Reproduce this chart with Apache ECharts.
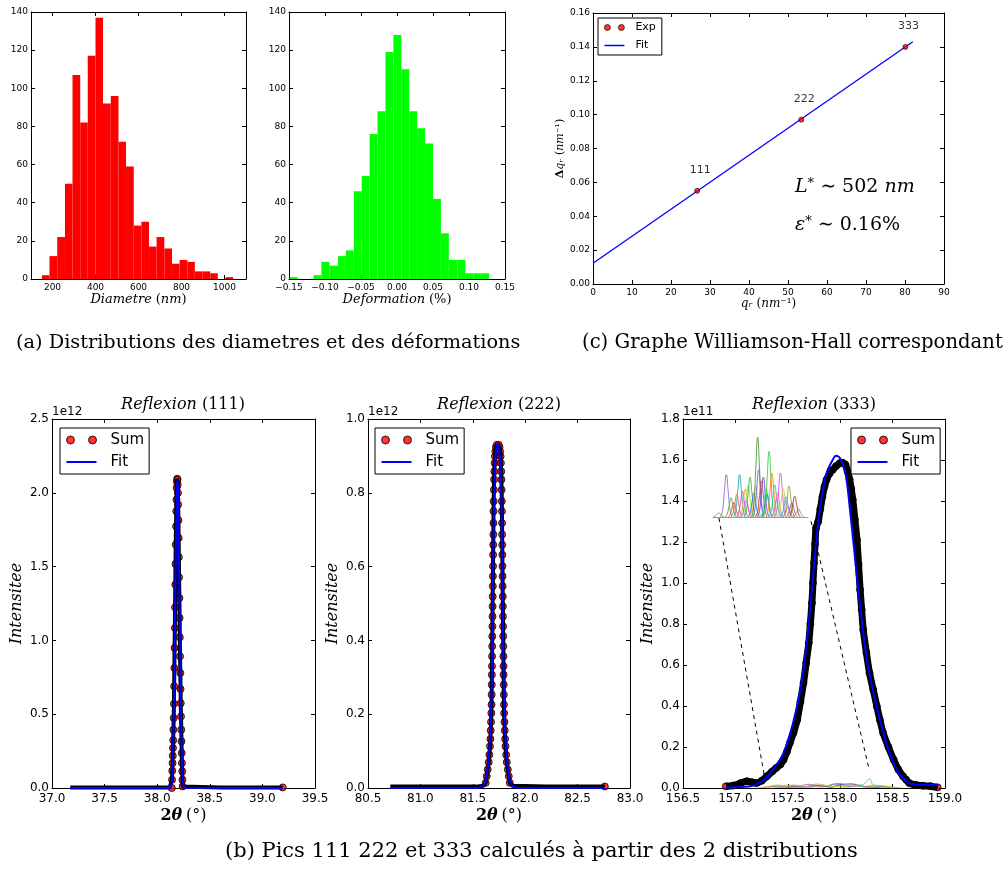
<!DOCTYPE html>
<html><head><meta charset="utf-8">
<script src="https://cdn.jsdelivr.net/npm/echarts@6/dist/echarts.min.js"></script>
<style>html,body{margin:0;padding:0;background:#fff}#c{width:1006px;height:874px}</style>
</head><body><div id="c"></div><script>
// ---------------- data ----------------
var diamEdges = [151,186,222,258,293,329,364,400,435,471,507,542,578,613,649,684,720,756,791,827,862,898,934,969,1005,1040];
var diamCounts = [2,12,22,50,107,82,117,137,92,96,72,59,28,30,17,22,16,8,10,9,4,4,3,0,1];
var diamTicks = [200,400,600,800,1000];
var defEdges = [-0.149,-0.138,-0.127,-0.116,-0.105,-0.094,-0.082,-0.071,-0.060,-0.049,-0.038,-0.027,-0.016,-0.005,0.006,0.017,0.028,0.039,0.050,0.061,0.072,0.084,0.095,0.106,0.117,0.128];
var defCounts = [1,0,0,2,9,7,12,15,46,54,76,88,119,128,110,88,79,71,42,24,10,10,3,3,3];

var whQ = [26.7, 53.4, 80.1];
var whDq = [0.055, 0.097, 0.140];
var whLabels = ['111','222','333'];
var whFitQ = [0, 82];
var whFitDq = [0.0123, 0.1430];

// Reflexion (111), intensities in 1e12
var base111Left = [[37.174,0.004],[37.6,0.004],[38.0,0.004],[38.12,0.004],[38.139,0.0]];
var base111Right = [[38.242,0.011],[38.26,0.004],[38.6,0.004],[39.0,0.004],[39.193,0.004]];
var sum111Peak = [[38.139,0.000],[38.141,0.056],[38.143,0.117],[38.146,0.169],[38.148,0.219],[38.150,0.271],[38.152,0.323],[38.154,0.395],[38.157,0.474],[38.159,0.571],[38.161,0.689],[38.163,0.813],[38.165,0.949],[38.168,1.084],[38.170,1.224],[38.172,1.378],[38.174,1.518],[38.176,1.649],[38.179,1.773],[38.181,1.875],[38.183,1.954],[38.185,2.033],[38.188,2.075],[38.190,2.095],
 [38.193,2.089],[38.195,2.055],[38.197,1.999],[38.199,1.920],[38.202,1.814],[38.204,1.694],[38.206,1.563],[38.208,1.427],[38.211,1.287],[38.213,1.152],[38.215,1.021],[38.217,0.892],[38.220,0.779],[38.222,0.670],[38.224,0.575],[38.226,0.485],[38.229,0.395],[38.231,0.316],[38.233,0.237],[38.235,0.169],[38.238,0.113],[38.240,0.056],[38.242,0.011]];
var sumEnd111 = [[39.193,0.004]];
var fit111 = [[37.174,0],[38.10,0],[38.13,0.01],[38.140,0.05],[38.147,0.17],[38.154,0.38],[38.161,0.70],[38.168,1.08],[38.175,1.50],[38.181,1.85],[38.187,2.05],[38.192,2.085],[38.197,2.04],[38.203,1.80],[38.209,1.45],[38.216,1.02],[38.223,0.65],[38.230,0.36],[38.236,0.17],[38.242,0.05],[38.252,0.01],[38.28,0],[39.193,0]];

// Reflexion (222), intensities in 1e12
var base222Left = [[80.713,0.004],[81.2,0.004],[81.55,0.004],[81.60,0.006],[81.623,0.014]];
var base222Right = [[81.853,0.014],[81.88,0.006],[82.2,0.004],[82.76,0.004]];
var sum222Peak = [[81.623,0.014],[81.633,0.032],[81.642,0.050],[81.652,0.070],[81.658,0.090],[81.664,0.113],[81.668,0.133],[81.671,0.156],[81.674,0.179],[81.677,0.203],[81.679,0.226],[81.680,0.253],[81.681,0.280],[81.682,0.307],[81.683,0.330],[81.684,0.357],[81.685,0.384],[81.686,0.411],[81.687,0.438],[81.688,0.465],[81.689,0.492],[81.690,0.519],[81.691,0.547],[81.692,0.574],[81.693,0.601],[81.694,0.632],[81.695,0.659],[81.696,0.687],[81.697,0.718],[81.698,0.750],[81.699,0.777],[81.701,0.808],[81.703,0.836],[81.705,0.858],[81.708,0.881],[81.711,0.899],[81.715,0.912],[81.721,0.924],[81.730,0.930],
 [81.746,0.930],[81.755,0.924],[81.761,0.912],[81.765,0.899],[81.768,0.881],[81.771,0.858],[81.773,0.836],[81.775,0.808],[81.777,0.777],[81.778,0.750],[81.779,0.718],[81.780,0.687],[81.781,0.659],[81.782,0.632],[81.783,0.601],[81.784,0.574],[81.785,0.547],[81.786,0.519],[81.787,0.492],[81.788,0.465],[81.789,0.438],[81.790,0.411],[81.791,0.384],[81.792,0.357],[81.793,0.330],[81.794,0.307],[81.795,0.280],[81.796,0.253],[81.797,0.226],[81.799,0.203],[81.802,0.179],[81.805,0.156],[81.808,0.133],[81.812,0.113],[81.818,0.090],[81.824,0.070],[81.834,0.050],[81.843,0.032],[81.853,0.014]];
var sumEnd222 = [[82.76,0.004]];
var fit222 = [[80.713,0],[81.55,0],[81.60,0.005],[81.625,0.02],[81.645,0.06],[81.66,0.11],[81.672,0.18],[81.682,0.30],[81.689,0.45],[81.695,0.62],[81.702,0.78],[81.712,0.88],[81.725,0.925],[81.738,0.935],[81.751,0.925],[81.764,0.88],[81.774,0.78],[81.781,0.62],[81.787,0.45],[81.794,0.30],[81.804,0.18],[81.816,0.11],[81.831,0.06],[81.851,0.02],[81.876,0.005],[81.93,0],[82.76,0]];

// Reflexion (333), intensities in 1e11
var sum333 = [[156.91,0.008],[156.98,0.012],[157.05,0.024],[157.11,0.033],[157.16,0.028],[157.20,0.024],[157.25,0.035],[157.30,0.057],[157.35,0.080],[157.39,0.098],[157.43,0.115],[157.46,0.138],[157.49,0.175],[157.52,0.220],[157.555,0.270],[157.59,0.333],[157.62,0.420],[157.65,0.512],[157.675,0.610],[157.70,0.707],[157.715,0.800],[157.73,0.902],[157.74,1.000],[157.75,1.098],[157.76,1.190],[157.77,1.270],[157.79,1.300],[157.81,1.360],[157.83,1.420],[157.85,1.470],[157.87,1.504],[157.90,1.535],[157.93,1.553],[157.96,1.570],[157.997,1.585],[158.02,1.587],[158.05,1.577],[158.07,1.545],[158.09,1.504],[158.105,1.460],[158.12,1.407],[158.14,1.310],[158.16,1.211],[158.175,1.090],[158.19,0.967],[158.205,0.870],[158.22,0.772],[158.25,0.660],[158.28,0.561],[158.315,0.480],[158.35,0.398],[158.38,0.330],[158.41,0.268],[158.46,0.200],[158.51,0.138],[158.555,0.090],[158.60,0.057],[158.63,0.040],[158.66,0.024],[158.72,0.015],[158.79,0.011],[158.86,0.009],[158.93,0.003]];
var fit333 = [[156.91,0.003],[157.14,0.008],[157.27,0.040],[157.36,0.090],[157.46,0.171],[157.55,0.317],[157.62,0.480],[157.68,0.707],[157.73,0.967],[157.78,1.244],[157.82,1.407],[157.87,1.537],[157.92,1.593],[157.96,1.621],[157.997,1.610],[158.05,1.537],[158.09,1.374],[158.14,1.130],[158.19,0.886],[158.25,0.642],[158.31,0.480],[158.38,0.333],[158.46,0.187],[158.54,0.089],[158.63,0.033],[158.73,0.016],[158.93,0.016]];
var comp333Colors = ['#33aa33','#cc44cc','#33cccc','#ff9933','#6644cc','#99dd33'];
var comp333 = [
 [[157.25,0],[157.35,0.008],[157.45,0.004],[157.55,0.012],[157.65,0.006],[157.75,0.015],[157.85,0.008],[157.95,0.020],[158.05,0.010],[158.15,0.016],[158.25,0.006],[158.35,0.012],[158.45,0.004],[158.55,0]],
 [[157.30,0],[157.40,0.012],[157.50,0.003],[157.60,0.008],[157.70,0.018],[157.80,0.005],[157.90,0.012],[158.00,0.022],[158.10,0.006],[158.20,0.010],[158.30,0.003],[158.40,0.008],[158.50,0]],
 [[157.90,0],[157.98,0.010],[158.05,0.004],[158.15,0.012],[158.22,0.018],[158.28,0.044],[158.32,0.012],[158.40,0.004],[158.50,0]],
 [[157.20,0],[157.30,0.006],[157.42,0.014],[157.52,0.006],[157.62,0.012],[157.72,0.004],[157.82,0.016],[157.92,0.006],[158.02,0.012],[158.12,0.020],[158.22,0.006],[158.32,0.014],[158.45,0.006],[158.60,0]],
 [[157.40,0],[157.50,0.010],[157.60,0.004],[157.70,0.006],[157.80,0.012],[157.90,0.004],[158.00,0.016],[158.10,0.020],[158.20,0.008],[158.30,0.004],[158.40,0]],
 [[157.30,0],[157.45,0.005],[157.55,0.015],[157.68,0.008],[157.78,0.020],[157.88,0.010],[158.00,0.006],[158.12,0.014],[158.25,0.004],[158.38,0.012],[158.52,0]]
];
// zoom links (dashed) between inset and main plot, in (2theta, 1e11) units
var zoomLinkLeft = [[156.843,1.317],[157.277,0.057]];
var zoomLinkRight = [[157.721,1.301],[158.277,0.089]];
// inset: individual grain contributions (relative units), start position and sampled heights
var insetStart = [0,8,13,16,19,22,25,28,29,31,33,37,39,41,42,45,47,50,51,53,56,59,61,62,65,68,71,73,74,77,80,84];
var insetHeights = [
 [0,.008,.03,.05,.03,.008,0],[0,.08,.32,.53,.32,.08,0],[0,.04,.14,.24,.14,.04,0],[0,.03,.11,.18,.11,.03,0],
 [0,.04,.17,.28,.17,.04,0],[0,.08,.32,.53,.32,.08,0],[0,.05,.19,.32,.19,.05,0],[0,.05,.21,.35,.21,.05,0],
 [0,.03,.12,.20,.12,.03,0],[0,.06,.24,.40,.24,.06,0],[0,.08,.30,.50,.30,.08,0],[0,.05,.18,.30,.18,.05,0],
 [0,.06,.23,.38,.23,.06,0],[0,.15,.60,1.0,.60,.15,0],[0,.09,.35,.59,.35,.09,0],[0,.07,.27,.45,.27,.07,0],
 [0,.08,.30,.50,.30,.08,0],[0,.05,.21,.35,.21,.05,0],[0,.04,.17,.28,.17,.04,0],[0,.12,.49,.82,.49,.12,0],
 [0,.08,.33,.55,.33,.08,0],[0,.06,.24,.40,.24,.06,0],[0,.03,.13,.22,.13,.03,0],[0,.05,.18,.30,.18,.05,0],
 [0,.08,.33,.55,.33,.08,0],[0,.05,.21,.35,.21,.05,0],[0,.04,.15,.25,.15,.04,0],[0,.02,.08,.14,.08,.02,0],
 [0,.06,.23,.39,.23,.06,0],[0,.03,.11,.18,.11,.03,0],[0,.04,.16,.26,.16,.04,0],[0,.02,.06,.10,.06,.02,0]];
var insetColors = ['#66aa44','#9966dd','#55aa33','#aa5533','#ff5555','#22aaaa','#cc44cc','#ff9933','#aa66ff','#99ee33','#33bb55','#3366ff','#ffaa22','#559933','#8855ee','#bb4444','#7744cc','#33cccc','#2288aa','#33cc44','#ff8800','#22bbdd','#66cc66','#ff66aa','#ee44ee','#aadd22','#4488ff','#dd7744','#88aa44','#9955aa','#aa3322','#888888'];
var insetStep = 2;

// ---------------- layout / helpers ----------------
var SERIF = 'DejaVu Serif', SANS = 'DejaVu Sans';
var grids = [
  {left:31, top:12, width:215, height:267},
  {left:289, top:12, width:216, height:267},
  {left:593, top:13, width:351, height:271},
  {left:52, top:419, width:263, height:369},
  {left:368, top:419, width:262, height:369},
  {left:683, top:419, width:262, height:369},
  {left:713, top:437, width:95, height:80}
];
grids.forEach(function(g){ g.show=false; g.containLabel=false; g.outerBoundsMode='none'; });

function fmt(dec, minus){ return function(v){ if (Math.abs(v)<1e-9) v=0; var s=v.toFixed(dec); return minus ? s.replace('-','\u2212') : s; }; }
var xAxes=[], yAxes=[];
function mkAxis(gi, s, pos, show, fs, isX){
  var a = {type:'value', gridIndex:gi, position:pos, min:s.min, max:s.max,
    axisLine:{show:true, onZero:false, lineStyle:{color:'#000', width:1}},
    axisTick:{show:true, inside:true, length:4, lineStyle:{color:'#000', width:1}},
    splitLine:{show:false}, minorTick:{show:false},
    axisLabel:{show:show, color:'#000', fontFamily:SANS, fontSize:fs, margin: isX ? (fs>10?5:4) : 3,
      showMinLabel:true, showMaxLabel:true, hideOverlap:false, formatter: fmt(s.dec, s.minus)}};
  if (s.ticks){ a.axisTick.customValues = s.ticks; a.axisLabel.customValues = s.ticks; }
  else a.interval = s.interval;
  return a;
}
function addPanel(gi, xs, ys, fs, xName, yName){
  var xi = xAxes.length;
  xAxes.push(mkAxis(gi, xs, 'bottom', true, fs, true)); xAxes.push(mkAxis(gi, xs, 'top', false, fs, true));
  var yi = yAxes.length;
  yAxes.push(mkAxis(gi, ys, 'left', true, fs, false)); yAxes.push(mkAxis(gi, ys, 'right', false, fs, false));
  if (xName) Object.assign(xAxes[xi], xName);
  if (yName) Object.assign(yAxes[yi], yName);
  return {x:xi, y:yi};
}
var itRich = function(fs){ return {i:{fontFamily:SERIF, fontStyle:'italic', fontSize:fs, color:'#000'}, n:{fontFamily:SERIF, fontSize:fs, color:'#000'}, b:{fontFamily:SERIF, fontWeight:'bold', fontStyle:'italic', fontSize:fs, color:'#000'}, bn:{fontFamily:SERIF, fontWeight:'bold', fontSize:fs, color:'#000'}}; };

var pH1 = addPanel(0, {min:100,max:1100,ticks:diamTicks,dec:0}, {min:0,max:140,interval:20,dec:0}, 9,
  {name:'{i|Diametre} {n|(}{i|nm}{n|)}', nameLocation:'middle', nameGap:13, nameTextStyle:{rich:itRich(13)}}, null);
var pH2 = addPanel(1, {min:-0.15,max:0.15,interval:0.05,dec:2,minus:true}, {min:0,max:140,interval:20,dec:0}, 9,
  {name:'{i|Deformation} {n|(%)}', nameLocation:'middle', nameGap:13, nameTextStyle:{rich:itRich(13)}}, null);
var pWH = addPanel(2, {min:0,max:90,interval:10,dec:0}, {min:0,max:0.16,interval:0.02,dec:2}, 9,
  {name:'{i|q\u1d63} {n|(}{i|nm}{n|\u207b\u00b9)}', nameLocation:'middle', nameGap:14, nameTextStyle:{rich:itRich(12)}},
  {name:'{bn|\u0394}{i|q\u1d63} {n|(}{i|nm}{n|\u207b\u00b9)}', nameLocation:'middle', nameGap:24, nameRotate:90, nameTextStyle:{rich:itRich(11)}});
var xName2t = function(){ return {name:'{bn|2}{b|\u03b8} {n|(\u00b0)}', nameLocation:'middle', nameGap:20, nameTextStyle:{rich:itRich(16)}}; };
var yNameI = function(){ return {name:'{i|Intensitee}', nameLocation:'middle', nameGap:27, nameRotate:90, nameTextStyle:{rich:itRich(16)}}; };
var p1 = addPanel(3, {min:37,max:39.5,interval:0.5,dec:1}, {min:0,max:2.5,interval:0.5,dec:1}, 12, xName2t(), yNameI());
var p2 = addPanel(4, {min:80.5,max:83,interval:0.5,dec:1}, {min:0,max:1,interval:0.2,dec:1}, 12, xName2t(), yNameI());
var p3 = addPanel(5, {min:156.5,max:159,interval:0.5,dec:1}, {min:0,max:1.8,interval:0.2,dec:1}, 12, xName2t(), yNameI());
// inset axes
var pIn = {x:xAxes.length, y:yAxes.length};
xAxes.push({type:'value', gridIndex:6, min:0, max:100, axisLine:{show:true, onZero:false, lineStyle:{color:'#999', width:1}}, axisTick:{show:false}, axisLabel:{show:false}, splitLine:{show:false}});
yAxes.push({type:'value', gridIndex:6, min:0, max:1, show:false});

// ---------------- series ----------------
function histRender(color){
  return function(params, api){
    var p0 = api.coord([api.value(0), api.value(2)]);
    var p1c = api.coord([api.value(1), 0]);
    return {type:'rect', shape:{x:p0[0], y:p0[1], width:p1c[0]-p0[0], height:p1c[1]-p0[1]}, style:{fill:color}};
  };
}
var series = [];
series.push({type:'custom', xAxisIndex:pH1.x, yAxisIndex:pH1.y, renderItem:histRender('#ff0000'),
  encode:{x:[0,1], y:2}, data: diamCounts.map(function(c,i){ return [diamEdges[i], diamEdges[i+1], c]; })});
series.push({type:'custom', xAxisIndex:pH2.x, yAxisIndex:pH2.y, renderItem:histRender('#00ff00'),
  encode:{x:[0,1], y:2}, data: defCounts.map(function(c,i){ return [defEdges[i], defEdges[i+1], c]; })});

// Williamson-Hall
series.push({name:'Exp', type:'scatter', xAxisIndex:pWH.x, yAxisIndex:pWH.y, symbolSize:5, clip:false,
  itemStyle:{color:'#ff0000', borderColor:'#000', borderWidth:0.8},
  label:{show:true, position:'top', distance:12, offset:[3,0], color:'#000', fontFamily:SANS, fontSize:11,
    formatter:function(p){ return whLabels[p.dataIndex]; }},
  data: whQ.map(function(q,i){ return [q, whDq[i]]; }), z:3});
series.push({name:'Fit', type:'line', xAxisIndex:pWH.x, yAxisIndex:pWH.y, symbol:'none', clip:false,
  lineStyle:{color:'#0000ff', width:1.3}, data: whFitQ.map(function(q,i){ return [q, whFitDq[i]]; }), z:2});

function addPeak(p, baseL, peak, baseR, endPt, fit){
  series.push({type:'line', xAxisIndex:p.x, yAxisIndex:p.y, symbol:'none', clip:false, silent:true,
    lineStyle:{color:'#000', width:4}, data: baseL.concat(peak, baseR)});
  series.push({name:'Sum', type:'scatter', xAxisIndex:p.x, yAxisIndex:p.y, symbolSize:7, clip:false,
    itemStyle:{color:'#ff0000', borderColor:'#000', borderWidth:1}, data: peak.concat(endPt)});
  series.push({name:'Fit', type:'line', xAxisIndex:p.x, yAxisIndex:p.y, symbol:'none', clip:false,
    lineStyle:{color:'#0000ff', width:2}, data: fit});
}
addPeak(p1, base111Left, sum111Peak, base111Right, sumEnd111, fit111);
addPeak(p2, base222Left, sum222Peak, base222Right, sumEnd222, fit222);

// 333
series.push({type:'line', xAxisIndex:p3.x, yAxisIndex:p3.y, symbol:'none', clip:false, silent:true, smooth:0.3,
  lineStyle:{color:'#000', width:7}, data: sum333});
series.push({name:'Sum', type:'scatter', xAxisIndex:p3.x, yAxisIndex:p3.y, symbolSize:7, clip:false,
  itemStyle:{color:'#dd0000', borderColor:'#000', borderWidth:1}, data: sum333});
series.push({name:'Fit', type:'line', xAxisIndex:p3.x, yAxisIndex:p3.y, symbol:'none', clip:false, smooth:0.3,
  lineStyle:{color:'#0000ff', width:2}, data: fit333});
comp333.forEach(function(c,i){
  series.push({type:'line', xAxisIndex:p3.x, yAxisIndex:p3.y, symbol:'none', smooth:true, silent:true,
    lineStyle:{color:comp333Colors[i], width:0.8}, data:c});
});
[zoomLinkLeft, zoomLinkRight].forEach(function(d){
  series.push({type:'line', xAxisIndex:p3.x, yAxisIndex:p3.y, symbol:'none', clip:false, silent:true,
    lineStyle:{color:'#000', width:1, type:[4,4]}, data:d});
});
insetHeights.forEach(function(hs,i){
  series.push({type:'line', xAxisIndex:pIn.x, yAxisIndex:pIn.y, symbol:'none', smooth:true, silent:true, clip:false,
    lineStyle:{color:insetColors[i], width:0.9},
    data: hs.map(function(h,k){ return [insetStart[i] + insetStep*k, h]; })});
});

// ---------------- legends ----------------
var dotsIcon = 'path://M0,4.5A4,4,0,1,1,8,4.5A4,4,0,1,1,0,4.5ZM22,4.5A4,4,0,1,1,30,4.5A4,4,0,1,1,22,4.5Z';
var lineIcon = 'path://M0,0L30,0L30,0ZM0,9L30,9L30,9ZM0,3.5L30,3.5L30,5.5L0,5.5Z';
var smallDots = 'path://M0,3A3,3,0,1,1,6,3A3,3,0,1,1,0,3ZM14,3A3,3,0,1,1,20,3A3,3,0,1,1,14,3Z';
var smallLine = 'path://M0,0L20,0L20,0ZM0,6L20,6L20,6ZM0,2.2L20,2.2L20,3.8L0,3.8Z';
function bottomLegend(left){
  return {left:left, top:428, orient:'vertical', padding:[4,5,4,6], itemGap:6, itemWidth:30, itemHeight:9,
    borderColor:'#000', borderWidth:1, borderRadius:0, backgroundColor:'#fff', selectedMode:false,
    textStyle:{fontFamily:SANS, fontSize:15, color:'#000', lineHeight:16, padding:[0,0,0,9]},
    data:[{name:'Sum', icon:dotsIcon, itemStyle:{color:'#ff0000', borderColor:'#000', borderWidth:1}},
          {name:'Fit', icon:lineIcon, itemStyle:{color:'#0000ff', borderWidth:0}}]};
}
var legends = [
  {left:598, top:18, orient:'vertical', padding:[4,6,4,6], itemGap:7, itemWidth:20, itemHeight:6,
    borderColor:'#000', borderWidth:1, borderRadius:0, backgroundColor:'#fff', selectedMode:false,
    textStyle:{fontFamily:SANS, fontSize:11, color:'#000', lineHeight:10, padding:[0,0,0,6]},
    data:[{name:'Exp', icon:smallDots, itemStyle:{color:'#ff0000', borderColor:'#000', borderWidth:0.8}},
          {name:'Fit', icon:smallLine, itemStyle:{color:'#0000ff', borderColor:'#0000ff', borderWidth:0}}]},
  bottomLegend(60), bottomLegend(375), bottomLegend(851)
];

// ---------------- texts ----------------
var capStyle = {fontFamily:SERIF, fontSize:19.3, fill:'#000', verticalAlign:'middle', align:'left'};
function txt(x, y, text, extra){ var st = Object.assign({text:text}, capStyle, extra||{}); return {type:'text', x:x, y:y, style:st, silent:true}; }
var titleRich = {i:{fontFamily:SERIF, fontStyle:'italic', fontSize:16}, n:{fontFamily:SERIF, fontSize:16}};
var supRich = {i:{fontFamily:SERIF, fontStyle:'italic', fontSize:19}, n:{fontFamily:SERIF, fontSize:19}, s:{fontFamily:SERIF, fontSize:13, verticalAlign:'top'}};
var graphic = [
  txt(16, 343, '(a) Distributions des diametres et des d\u00e9formations', {fontSize:19.3}),
  txt(582, 343, '(c) Graphe Williamson-Hall correspondant', {fontSize:19.6}),
  txt(225, 852, '(b) Pics 111 222 et 333 calcul\u00e9s \u00e0 partir des 2 distributions', {fontSize:21}),
  txt(183, 405, '{i|Reflexion} {n|(111)}', {align:'center', rich:titleRich, fontSize:16}),
  txt(499, 405, '{i|Reflexion} {n|(222)}', {align:'center', rich:titleRich, fontSize:16}),
  txt(814, 405, '{i|Reflexion} {n|(333)}', {align:'center', rich:titleRich, fontSize:16}),
  txt(52, 412, '1e12', {fontFamily:SANS, fontSize:12}),
  txt(368, 412, '1e12', {fontFamily:SANS, fontSize:12}),
  txt(683, 412, '1e11', {fontFamily:SANS, fontSize:12}),
  txt(795, 187, '{i|L}{s|*} {n|\u223c 502} {i|nm}', {rich:supRich, fontSize:19}),
  txt(795, 225, '{i|\u03b5}{s|*} {n|\u223c 0.16%}', {rich:supRich, fontSize:19})
];

var option = {
  animation:false, backgroundColor:'#fff',
  textStyle:{fontFamily:SANS},
  grid:grids, xAxis:xAxes, yAxis:yAxes, series:series, legend:legends, graphic:graphic
};
var chart = echarts.init(document.getElementById('c'), null, {renderer:'canvas'});
chart.setOption(option);
</script></body></html>
